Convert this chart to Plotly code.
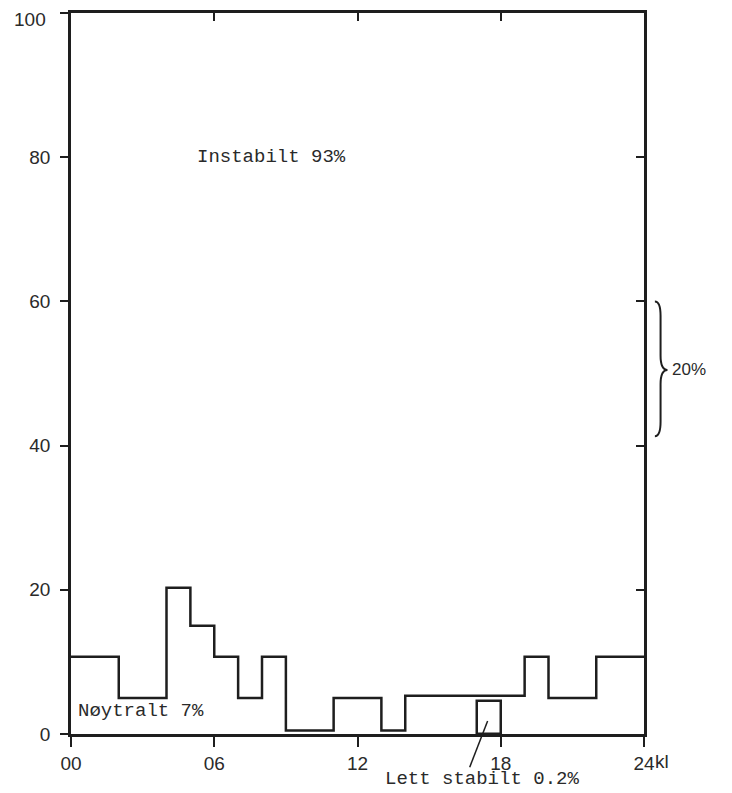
import plotly.graph_objects as go

# step edges (hour) and neutral share (%) per interval
hour_edges = [0, 2, 4, 5, 6, 7, 8, 9, 11, 13, 14, 19, 20, 22, 24]
neutral_pct = [10.7, 5.0, 20.3, 15.0, 10.7, 5.0, 10.7, 0.5, 5.0, 0.5, 5.3, 10.7, 5.0, 10.7]

# slightly stable box
stable_hour = [17.5]
stable_pct = [4.6]

x_ticks = [0, 6, 12, 18, 24]
x_labels = ["00", "06", "12", "18", "24"]
y_ticks = [0, 20, 40, 60, 80, 100]
y_labels = ["0", "20", "40", "60", "80", ""]  # "100" drawn separately, sits on the frame edge

INK = "#1e1e1e"
TXT = "#2a2a2a"
MONO = "Liberation Mono, Courier New, monospace"
SANS = "Liberation Sans, Arial, sans-serif"

fig = go.Figure()

fig.add_trace(go.Scatter(
    x=hour_edges,
    y=neutral_pct + [neutral_pct[-1]],
    mode="lines",
    line=dict(color=INK, width=2.5, shape="hv"),
    showlegend=False,
    hoverinfo="skip",
))

fig.add_trace(go.Bar(
    x=stable_hour,
    y=stable_pct,
    width=1,
    marker=dict(color="rgba(0,0,0,0)", line=dict(color=INK, width=2.5)),
    showlegend=False,
    hoverinfo="skip",
))

# brace on the right side, 40-60 band
x0, w = 1.019, 0.022
top, bot, mid, d = 0.60, 0.413, 0.505, 0.02
xm, xt = x0 + w * 0.45, x0 + w
brace = (f"M {x0},{top} Q {xm},{top} {xm},{top - d} L {xm},{mid + d} "
         f"Q {xm},{mid} {xt},{mid} Q {xm},{mid} {xm},{mid - d} "
         f"L {xm},{bot + d} Q {xm},{bot} {x0},{bot}")
fig.add_shape(type="path", path=brace, xref="paper", yref="paper",
              line=dict(color=INK, width=2))

# pointer for "Lett stabilt"
fig.add_shape(type="line", xref="x", yref="paper",
              x0=16.7, y0=-0.046, x1=17.45, y1=0.018,
              line=dict(color=INK, width=1.5))

fig.add_annotation(x=8.4, y=80, text="Instabilt 93%", showarrow=False,
                   font=dict(family=MONO, size=19, color=TXT))
fig.add_annotation(x=0.2, y=3.2, text="Nøytralt 7%", showarrow=False,
                   xanchor="left", font=dict(family=MONO, size=19, color=TXT))
fig.add_annotation(x=17.2, y=-0.062, yref="paper", yanchor="middle",
                   text="Lett stabilt 0.2%", showarrow=False,
                   font=dict(family=MONO, size=19, color=TXT))
fig.add_annotation(x=1.045, y=0.505, xref="paper", yref="paper", text="20%",
                   showarrow=False, xanchor="left", yanchor="middle",
                   font=dict(family=SANS, size=17, color=TXT))
fig.add_annotation(x=1.015, y=-0.0375, xref="paper", yref="paper", text="kl",
                   showarrow=False, xanchor="left", yanchor="middle",
                   font=dict(family=SANS, size=19, color=TXT))
fig.add_annotation(x=0, y=1, xref="paper", yref="paper", text=str(y_ticks[-1]),
                   showarrow=False, xanchor="right", yanchor="middle",
                   xshift=-23, yshift=-6,
                   font=dict(family=SANS, size=19, color=TXT))

axis_common = dict(showgrid=False, zeroline=False, showline=True, automargin=False,
                   linecolor=INK, linewidth=2.5, tickcolor=INK, tickwidth=2)

fig.update_layout(
    width=724, height=785,
    paper_bgcolor="white", plot_bgcolor="white",
    margin=dict(l=63, r=88, t=5, b=59, autoexpand=False),
    xaxis=dict(range=[0, 24], tickvals=x_ticks, ticktext=x_labels,
               ticks="outside", ticklen=10, ticklabelstandoff=0,
               tickfont=dict(family=SANS, size=19, color=TXT), **axis_common),
    yaxis=dict(range=[0, 100], tickvals=y_ticks, ticktext=y_labels,
               ticks="outside", ticklen=8, ticklabelstandoff=6,
               tickfont=dict(family=SANS, size=19, color=TXT), **axis_common),
    xaxis2=dict(range=[0, 24], overlaying="x", side="top", tickvals=x_ticks[1:4],
                ticks="inside", ticklen=8, showticklabels=False, **axis_common),
    yaxis2=dict(range=[0, 100], overlaying="y", side="right", tickvals=y_ticks[1:5],
                ticks="inside", ticklen=8, showticklabels=False, **axis_common),
    bargap=0,
)

# dummy trace to activate the mirror axes
fig.add_trace(go.Scatter(x=[None], y=[None], xaxis="x2", yaxis="y2",
                         showlegend=False, hoverinfo="skip"))

fig.write_html("out.html")
